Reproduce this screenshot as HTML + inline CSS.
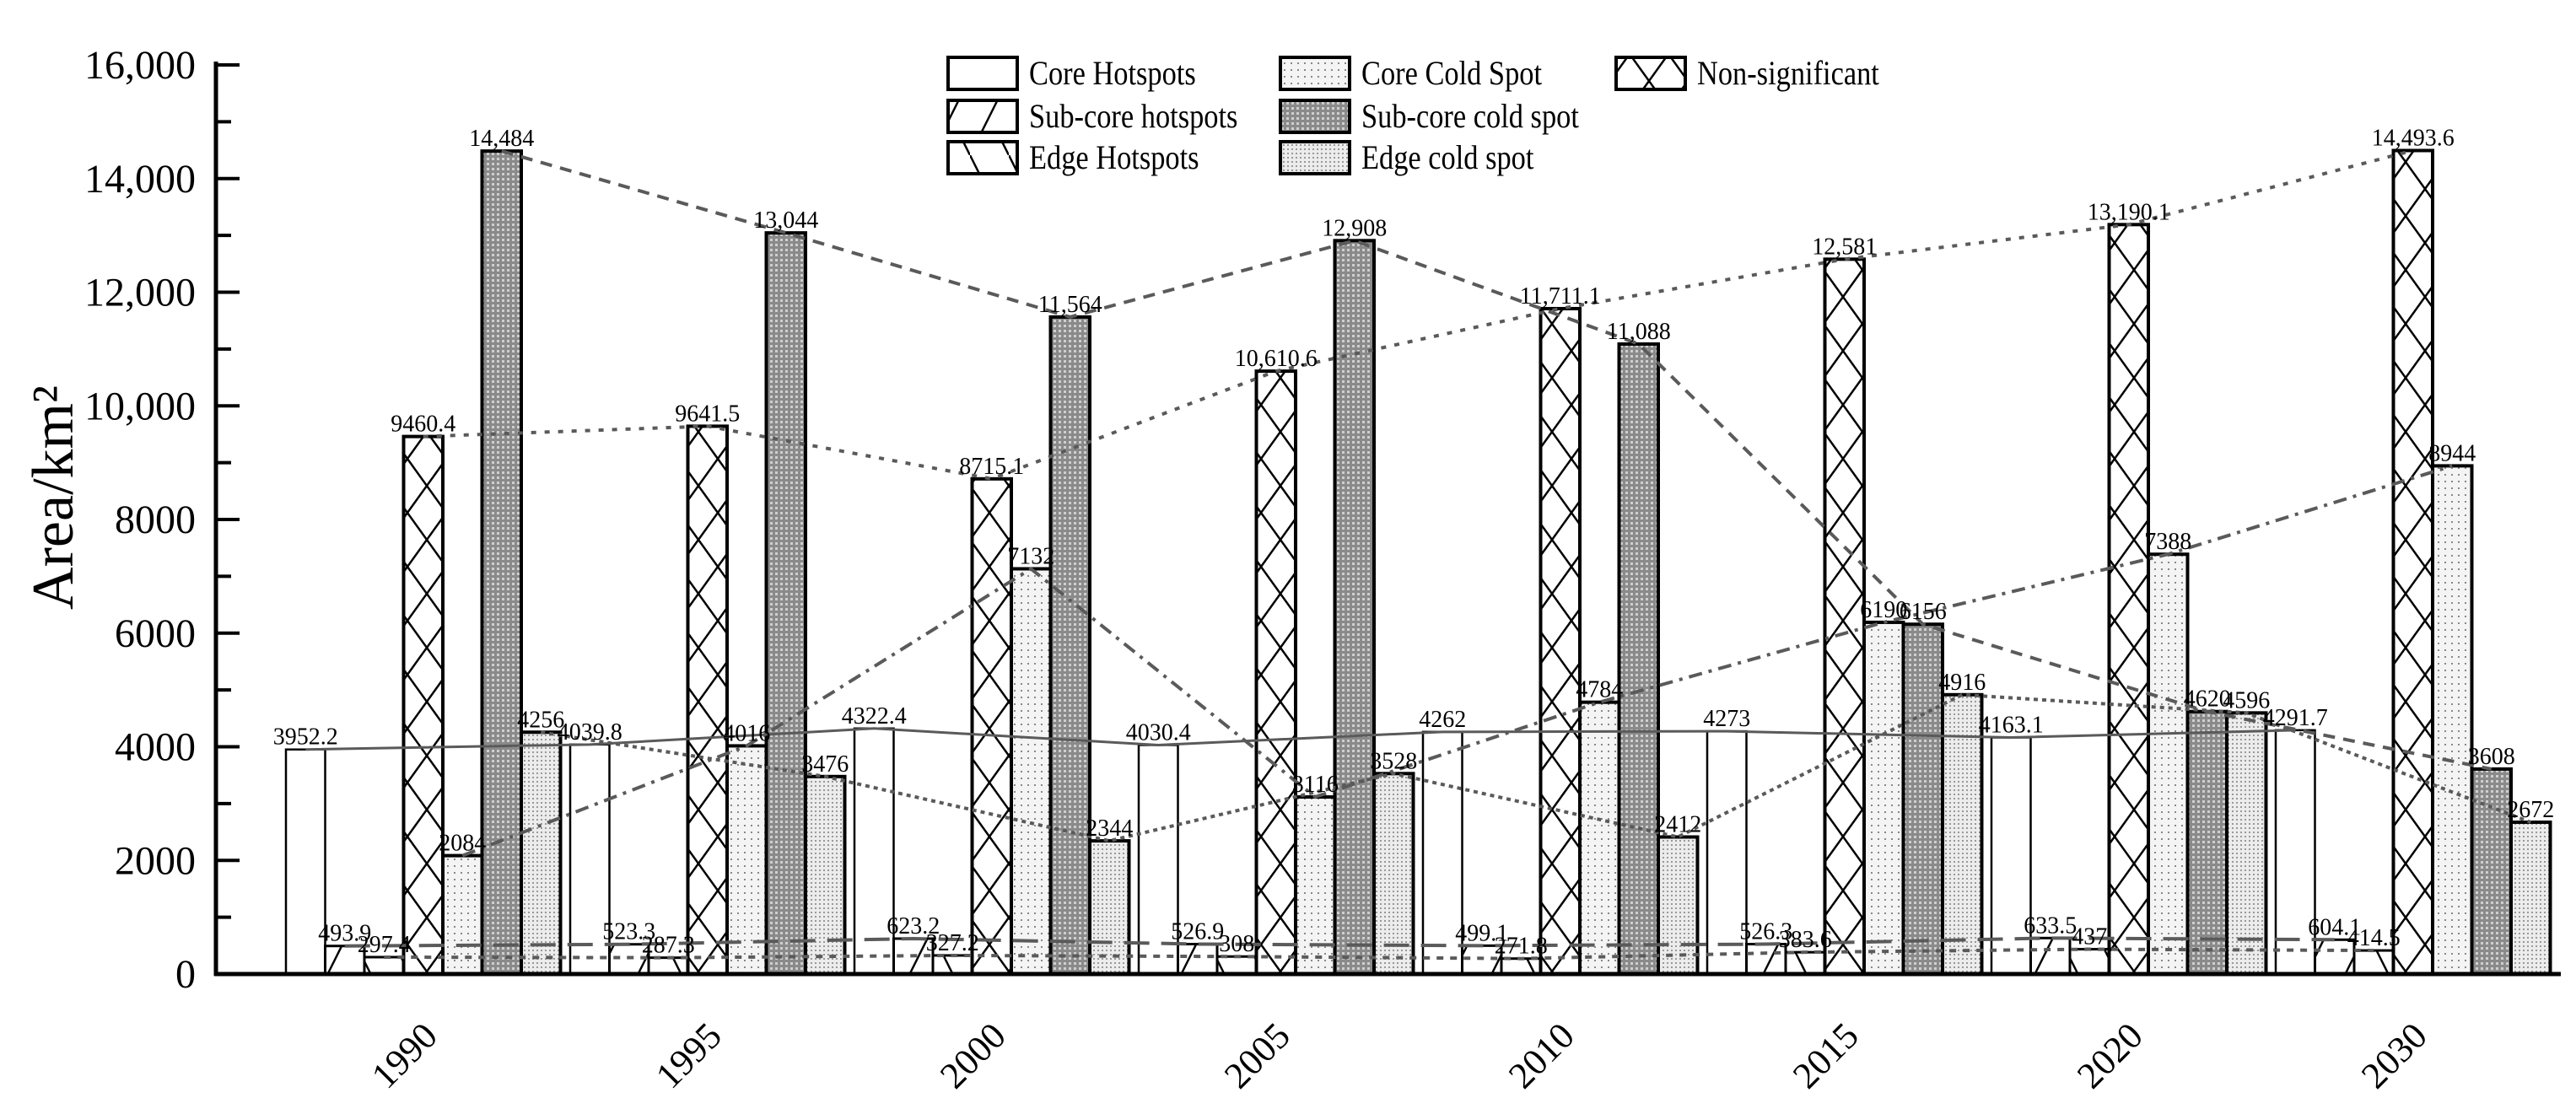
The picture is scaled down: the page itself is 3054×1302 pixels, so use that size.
<!DOCTYPE html>
<html><head><meta charset="utf-8"><style>
html,body{margin:0;padding:0;background:#fff;}
svg{display:block;font-family:"Liberation Serif",serif;}
</style></head><body>
<svg id="chart" width="3054" height="1302" viewBox="0 0 3054 1302" xmlns="http://www.w3.org/2000/svg">
<defs>
<pattern id="p-fwd" patternUnits="userSpaceOnUse" width="46" height="92"><line x1="0" y1="92" x2="46" y2="0" stroke="#000" stroke-width="2.5"/></pattern>
<pattern id="p-back" patternUnits="userSpaceOnUse" width="46" height="92"><line x1="0" y1="0" x2="46" y2="92" stroke="#000" stroke-width="2.5"/></pattern>
<pattern id="p-cross" patternUnits="userSpaceOnUse" width="46" height="64"><rect width="46" height="64" fill="#fff"/><line x1="0" y1="0" x2="46" y2="64" stroke="#000" stroke-width="2.5"/><line x1="46" y1="0" x2="0" y2="64" stroke="#000" stroke-width="2.5"/></pattern>
<pattern id="p-light" patternUnits="userSpaceOnUse" width="8" height="8"><rect width="8" height="8" fill="#f4f4f4"/><rect x="2" y="2" width="2" height="2" fill="#888"/></pattern>
<pattern id="p-dark" patternUnits="userSpaceOnUse" width="6" height="6"><rect width="6" height="6" fill="#8a8a8a"/><rect x="1" y="1" width="3" height="3" fill="#cfcfcf"/></pattern>
<pattern id="p-med" patternUnits="userSpaceOnUse" width="5" height="5"><rect width="5" height="5" fill="#ececec"/><rect x="1" y="1" width="2" height="2" fill="#999"/></pattern>
</defs>
<g id="plot"></g>
</svg>
<script>
const years = ["1990","1995","2000","2005","2010","2015","2020","2030"];
const seriesNames = ["Core Hotspots","Sub-core hotspots","Edge Hotspots","Non-significant","Core Cold Spot","Sub-core cold spot","Edge cold spot"];
const coreHot = [3952.2,4039.8,4322.4,4030.4,4262,4273,4163.1,4291.7];
const subHot = [493.9,523.3,623.2,526.9,499.1,526.3,633.5,604.1];
const edgeHot = [297.4,287.3,327.2,308,271.8,383.6,437,414.5];
const nonSig = [9460.4,9641.5,8715.1,10610.6,11711.1,12581,13190.1,14493.6];
const coreCold = [2084,4016,7132,3116,4784,6190,7388,8944];
const subCold = [14484,13044,11564,12908,11088,6156,4620,3608];
const edgeCold = [4256,3476,2344,3528,2412,4916,4596,2672];
const yTicks = [0,2000,4000,6000,8000,10000,12000,14000,16000];

const NS="http://www.w3.org/2000/svg";
const g=document.getElementById('plot');
const X0=256, Y0=1155, YTOP=77, YMAX=16000;
const G0=339, GSTEP=337, BW=46.5;
function y(v){return Y0-(v/YMAX)*(Y0-YTOP);}
function bx(gi,si){return G0+gi*GSTEP+si*BW;}
function mk(tag,attrs,parent){const e=document.createElementNS(NS,tag);for(const k in attrs)e.setAttribute(k,attrs[k]);(parent||g).appendChild(e);return e;}
function fmt(v){return v>=10000?v.toLocaleString('en-US',{maximumFractionDigits:1}):String(v);}

const data=[coreHot,subHot,edgeHot,nonSig,coreCold,subCold,edgeCold];
const fills=["#fff","url(#p-fwd)","url(#p-back)","url(#p-cross)","url(#p-light)","url(#p-dark)","url(#p-med)"];
const sw=[2.5,3,3,4,4,4,4];
const dashes=["", "30 14","8 8","6 10","16 8 4 8","14 10","5 5"];
const slugs=["core-hotspots","sub-core-hotspots","edge-hotspots","non-significant","core-cold-spot","sub-core-cold-spot","edge-cold-spot"];

data.forEach((arr,si)=>{
  arr.forEach((v,gi)=>{
    const r=mk('rect',{x:bx(gi,si),y:y(v),width:BW,height:Y0-y(v),fill:fills[si],stroke:'#000','stroke-width':sw[si]});
    
    
  });
});
data.forEach((arr,si)=>{
  const pts=arr.map((v,gi)=>(bx(gi,si)+BW/2)+','+y(v)).join(' ');
  const l=mk('polyline',{points:pts,fill:'none',stroke:'#5a5a5a','stroke-width':si==0?3:4,'stroke-dasharray':dashes[si]});
  
  
});
data.forEach((arr,si)=>{
  arr.forEach((v,gi)=>{
    const t=mk('text',{x:bx(gi,si)+BW/2,y:y(v)-6,'text-anchor':'middle','font-size':28,fill:'#000'});
    t.textContent=fmt(v);
    
    
  });
});
const ya=mk('line',{x1:X0,y1:YTOP-4,x2:X0,y2:Y0+2,stroke:'#000','stroke-width':5});


const xa=mk('line',{x1:X0-2,y1:Y0,x2:3036,y2:Y0,stroke:'#000','stroke-width':5});


for(let v=1000;v<=16000;v+=1000){
  const major=v%2000===0;
  const tk=mk('line',{x1:X0,y1:y(v),x2:X0+(major?28:18),y2:y(v),stroke:'#000','stroke-width':4});
  
  
}
yTicks.forEach(v=>{
  const t=mk('text',{x:X0-24,y:y(v)+16,'text-anchor':'end','font-size':48});
  t.textContent=v>=10000?v.toLocaleString('en-US'):String(v);
  
  
});
const yt=mk('text',{x:0,y:0,'text-anchor':'middle','font-size':70,transform:'translate(86,590) rotate(-90)'});
yt.textContent='Area/km²';


years.forEach((yr,gi)=>{
  const cx=G0+gi*GSTEP+3.5*BW-12;
  const t=mk('text',{x:0,y:0,'text-anchor':'middle','font-size':44,transform:`translate(${cx},1262) rotate(-45)`});
  t.textContent=yr;
  
  
});
const legPos=[[1124,87],[1124,138],[1124,187],[1916,87],[1518,87],[1518,138],[1518,187]];
seriesNames.forEach((n,si)=>{
  const [lx,ly]=legPos[si];
  const grp=mk('g',{});
  
  
  mk('rect',{x:lx,y:ly-19,width:82,height:38,fill:fills[si],stroke:'#000','stroke-width':4},grp);
  const t=mk('text',{x:0,y:0,'font-size':40,transform:`translate(${lx+96},${ly+13}) scale(0.86,1)`},grp);
  t.textContent=n;
});
</script>
</body></html>
